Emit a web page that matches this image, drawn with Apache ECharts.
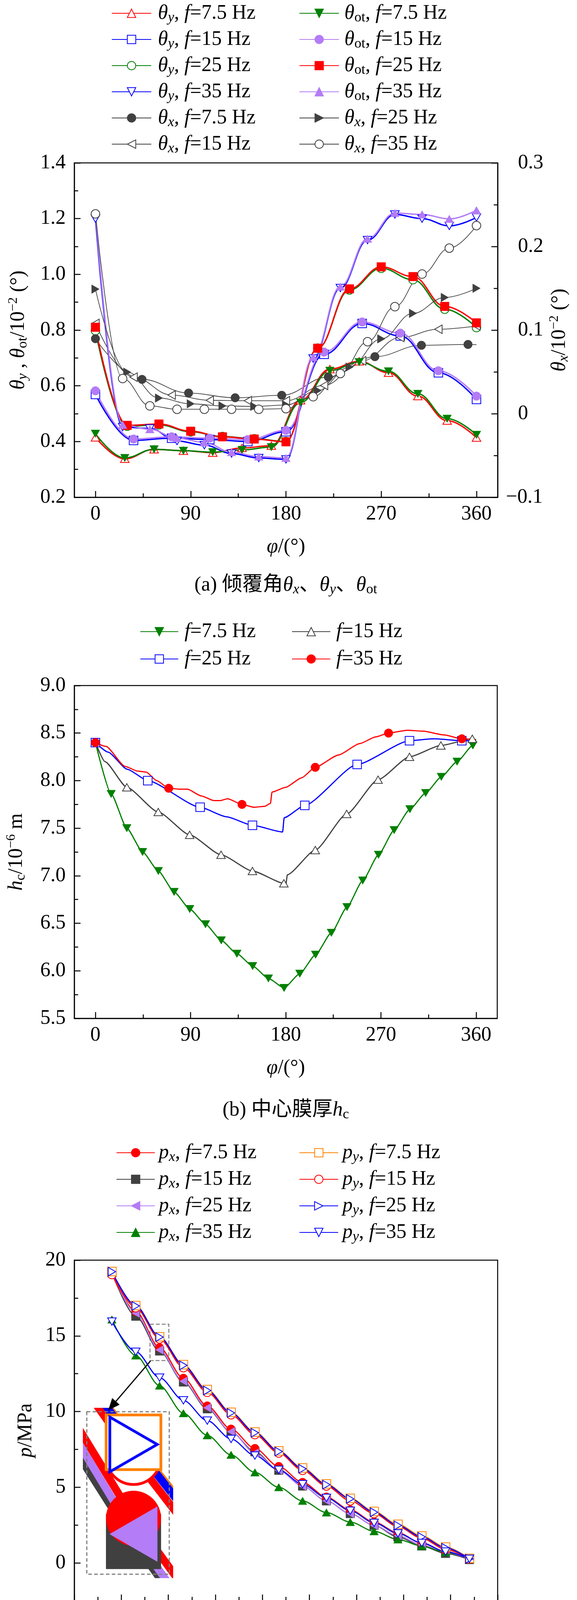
<!DOCTYPE html>
<html>
<head>
<meta charset="utf-8">
<script src="https://cdn.jsdelivr.net/npm/echarts@6/dist/echarts.min.js"></script>
<style>
html, body { margin: 0; padding: 0; background: #fff; }
#chart { width: 1476px; height: 5804px; }
</style>
</head>
<body>
<div id="chart"></div>
<script>
// ---------- (a) tilt angles, phi in degrees ----------
var phiA75 = [0, 27.7, 55.4, 83.1, 110.8, 138.5, 166.2, 193.8, 221.5, 249.2, 276.9, 304.6, 332.3, 360];
var phiA15 = [0, 36, 72, 108, 144, 180, 216, 252, 288, 324, 360];
var phiA25 = [0, 30, 60, 90, 120, 150, 180, 210, 240, 270, 300, 330, 360];
var phiA35 = [0, 25.7, 51.4, 77.1, 102.9, 128.6, 154.3, 180, 205.7, 231.4, 257.1, 282.9, 308.6, 334.3, 360];
var phiAx75 = [0, 44, 88, 132, 176, 220, 264, 308, 352];

var thetaY75 = [0.415, 0.338, 0.372, 0.367, 0.36, 0.377, 0.385, 0.548, 0.66, 0.688, 0.647, 0.563, 0.475, 0.414];
var thetaY15 = [0.569, 0.404, 0.412, 0.407, 0.40, 0.435, 0.713, 0.824, 0.779, 0.647, 0.551];
var thetaY25 = [0.798, 0.455, 0.46, 0.435, 0.418, 0.41, 0.40, 0.735, 0.944, 1.022, 0.981, 0.875, 0.809];
var thetaY35 = [1.20, 0.452, 0.447, 0.402, 0.387, 0.357, 0.341, 0.336, 0.698, 0.951, 1.123, 1.215, 1.20, 1.174, 1.204];
var thetaOt75 = [0.428, 0.341, 0.372, 0.367, 0.362, 0.37, 0.38, 0.54, 0.654, 0.685, 0.652, 0.571, 0.482, 0.424];
var thetaOt15 = [0.582, 0.409, 0.417, 0.412, 0.407, 0.44, 0.721, 0.829, 0.789, 0.654, 0.563];
var thetaOt25 = [0.81, 0.458, 0.463, 0.437, 0.417, 0.409, 0.399, 0.735, 0.948, 1.027, 0.992, 0.885, 0.826];
var thetaOt35 = [1.22, 0.46, 0.444, 0.412, 0.397, 0.362, 0.346, 0.341, 0.703, 0.956, 1.128, 1.22, 1.215, 1.199, 1.23];
var thetaX75 = [0.0897, 0.041, 0.0247, 0.019, 0.022, 0.0439, 0.0682, 0.0818, 0.0828];
var thetaX75End = [[360, 0.0825]];
var thetaX15 = [0.108, 0.0437, 0.0223, 0.016, 0.0155, 0.0155, 0.0338, 0.0632, 0.0912, 0.101, 0.105];
var thetaX25 = [0.149, 0.0497, 0.0187, 0.0118, 0.0093, 0.0087, 0.0103, 0.0277, 0.0557, 0.0895, 0.12, 0.139, 0.150];
var thetaX35 = [0.239, 0.042, 0.0093, 0.0053, 0.0053, 0.0053, 0.0053, 0.006, 0.0203, 0.048, 0.0861, 0.128, 0.167, 0.198, 0.225];

// ---------- (b) centre film thickness ----------
var phiB75 = [0, 14.9, 29.7, 44.6, 59.5, 74.4, 89.2, 104.1, 119, 133.8, 148.7, 163.6, 178.4, 193.3, 208.2, 223.1, 237.9, 252.8, 267.7, 282.5, 297.4, 312.3, 327.1, 342, 356.9];
var phiB15 = [0, 29.7, 59.4, 89.1, 118.8, 148.5, 178.2, 207.9, 237.6, 267.3, 297, 326.7, 356.4];
var phiB25 = [0, 49.5, 99, 148.5, 198, 247.5, 297, 346.5];
var phiB35 = [0, 69.3, 138.6, 207.9, 277.2, 346.5];
var hc75 = [8.40, 7.86, 7.50, 7.25, 7.05, 6.83, 6.65, 6.49, 6.32, 6.18, 6.05, 5.92, 5.82, 5.97, 6.17, 6.40, 6.67, 6.95, 7.22, 7.48, 7.70, 7.87, 8.04, 8.20, 8.37];
var hc15 = [8.40, 7.93, 7.67, 7.43, 7.22, 7.05, 6.92, 7.27, 7.65, 8.01, 8.25, 8.37, 8.44];
var hc25 = [8.40, 8.00, 7.72, 7.53, 7.74, 8.17, 8.42, 8.42];
var hc35 = [8.40, 7.92, 7.75, 8.14, 8.50, 8.44];
// unmarked points along the curves
var hc75Extra = [[360, 8.42]];
var hc15Extra = [[9, 8.20], [180, 6.90], [181.5, 7.01], [360, 8.43]];
var hc25Extra = [[12, 8.30], [30, 8.12], [124, 7.62], [177, 7.46], [178.5, 7.61], [320, 8.44], [360, 8.42]];
var hc35Extra = [[10, 8.36], [28, 8.15], [40, 8.10], [48, 8.09], [58, 8.00], [80, 7.91], [87, 7.91], [100, 7.84],
  [112, 7.79], [118, 7.79], [125, 7.81], [150, 7.72], [160, 7.73], [165.5, 7.76], [167, 7.88], [180, 7.93],
  [195, 8.03], [230, 8.27], [250, 8.39], [265, 8.46], [295, 8.53], [310, 8.52], [330, 8.48], [360, 8.43]];

// ---------- (c)/(d) pressure along radius ----------
var rVals = [7.8, 8.307, 8.813, 9.32, 9.827, 10.333, 10.84, 11.347, 11.853, 12.36, 12.867, 13.373, 13.88, 14.387, 14.893, 15.4];
var pxC75 = [19.1, 16.62, 14.22, 12.2, 10.37, 8.84, 7.56, 6.37, 5.32, 4.35, 3.5, 2.7, 1.99, 1.31, 0.75, 0.27];
var pyC75 = [19.25, 17.0, 14.94, 13.1, 11.45, 9.95, 8.65, 7.4, 6.27, 5.22, 4.27, 3.4, 2.55, 1.78, 1.05, 0.3];
var pxC15 = [19.17, 16.3, 14.0, 11.95, 10.18, 8.65, 7.34, 6.12, 5.08, 4.1, 3.26, 2.48, 1.72, 1.12, 0.63, 0.22];
var pyC15 = [19.05, 16.86, 14.8, 12.9, 11.27, 9.79, 8.48, 7.26, 6.12, 5.08, 4.1, 3.26, 2.4, 1.63, 0.9, 0.27];
var pxC25 = [19.24, 16.5, 14.07, 12.0, 10.25, 8.67, 7.26, 6.12, 5.08, 4.1, 3.26, 2.48, 1.8, 1.19, 0.7, 0.27];
var pyC25 = [19.24, 16.98, 14.92, 13.05, 11.39, 9.91, 8.60, 7.36, 6.22, 5.17, 4.23, 3.35, 2.48, 1.72, 1.0, 0.27];
var pxC35 = [16.08, 13.7, 11.71, 9.89, 8.43, 7.14, 5.98, 5.0, 4.1, 3.33, 2.7, 2.09, 1.55, 1.12, 0.7, 0.34];
var pyC35 = [15.94, 13.95, 12.24, 10.74, 9.4, 8.19, 7.09, 6.15, 5.2, 4.3, 3.45, 2.65, 1.95, 1.32, 0.75, 0.27];

var pxD75 = [0.2, 0.039, -0.075, -0.148, -0.195, -0.215, -0.216, -0.2, -0.17, -0.129, -0.076, -0.015, 0.054, 0.131, 0.212, 0.30];
var pyD75 = [0.2, 0.12, 0.059, 0.014, -0.015, -0.029, -0.035, -0.026, -0.011, 0.014, 0.044, 0.084, 0.13, 0.181, 0.238, 0.30];
var pxD15 = [0.2, 0.001, -0.139, -0.235, -0.296, -0.325, -0.33, -0.316, -0.281, -0.232, -0.17, -0.096, -0.011, 0.083, 0.187, 0.30];
var pyD15 = [0.2, 0.133, 0.081, 0.044, 0.019, 0.009, 0.006, 0.013, 0.028, 0.05, 0.077, 0.111, 0.152, 0.198, 0.246, 0.30];
var pxD25 = [0.2, -0.035, -0.2, -0.317, -0.389, -0.429, -0.442, -0.427, -0.389, -0.335, -0.264, -0.177, -0.076, 0.038, 0.163, 0.30];
var pyD25 = [0.2, 0.147, 0.109, 0.081, 0.065, 0.057, 0.055, 0.063, 0.077, 0.097, 0.122, 0.149, 0.182, 0.219, 0.259, 0.30];
var pxD35 = [0.2, -0.045, -0.224, -0.354, -0.437, -0.481, -0.497, -0.481, -0.448, -0.389, -0.314, -0.221, -0.11, 0.014, 0.149, 0.30];
var pyD35 = [0.2, 0.163, 0.135, 0.117, 0.106, 0.103, 0.105, 0.111, 0.125, 0.14, 0.16, 0.184, 0.209, 0.238, 0.268, 0.303];

// ---------- tick values ----------
var phiTicks = [0, 90, 180, 270, 360];
var phiMinor = [45, 135, 225, 315];
var rTicks = [7, 8, 9, 10, 11, 12, 13, 14, 15, 16];
var rMinor = [7.5, 8.5, 9.5, 10.5, 11.5, 12.5, 13.5, 14.5, 15.5];
var thetaTicks = [0.2, 0.4, 0.6, 0.8, 1.0, 1.2, 1.4];
var thetaMinor = [0.3, 0.5, 0.7, 0.9, 1.1, 1.3];
var thetaXTicks = [-0.1, 0, 0.1, 0.2, 0.3];
var thetaXMinor = [-0.05, 0.05, 0.15, 0.25];
var hcTicks = [5.5, 6.0, 6.5, 7.0, 7.5, 8.0, 8.5, 9.0];
var hcMinor = [5.75, 6.25, 6.75, 7.25, 7.75, 8.25, 8.75];
var pCTicks = [0, 5, 10, 15, 20];
var pCMinor = [2.5, 7.5, 12.5, 17.5];
var pDTicks = [-0.6, -0.4, -0.2, 0, 0.2, 0.4];
var pDMinor = [-0.5, -0.3, -0.1, 0.1, 0.3];

// ---------- styles ----------
var FF = '"Liberation Serif", "Noto Sans CJK SC", serif';
var RED = '#ff0000', BLUE = '#0000ff', GREEN = '#008000', PURPLE = '#b47cf6', ORANGE = '#ff8000', DGRAY = '#404040';
var TRI_UP = 'path://M0,8.66L5,0L10,8.66Z';
var TRI_DOWN = 'path://M0,0L10,0L5,8.66Z';
var TRI_LEFT = 'path://M8.66,0L8.66,10L0,5Z';
var TRI_RIGHT = 'path://M0,0L8.66,5L0,10Z';

var R = {
  n: { fontFamily: FF, fontSize: 52, lineHeight: 60, fontWeight: 'normal', color: '#000' },
  i: { fontFamily: FF, fontSize: 52, lineHeight: 60, fontWeight: 'normal', fontStyle: 'italic', color: '#000' },
  si: { fontFamily: FF, fontSize: 36, lineHeight: 26, fontWeight: 'normal', fontStyle: 'italic', verticalAlign: 'bottom', color: '#000' },
  sn: { fontFamily: FF, fontSize: 36, lineHeight: 26, fontWeight: 'normal', verticalAlign: 'bottom', color: '#000' },
  sup: { fontFamily: FF, fontSize: 34, lineHeight: 36, fontWeight: 'normal', verticalAlign: 'top', color: '#000' },
  pad: { fontFamily: FF, fontSize: 52, lineHeight: 60, fontWeight: 'normal', padding: [0, 0, 0, 31], color: '#000' }
};

var LBL = {
  'a-y75': '{i|θ}{si|y}{n|, }{i|f}{n|=7.5 Hz}',
  'a-y15': '{i|θ}{si|y}{n|, }{i|f}{n|=15 Hz}',
  'a-y25': '{i|θ}{si|y}{n|, }{i|f}{n|=25 Hz}',
  'a-y35': '{i|θ}{si|y}{n|, }{i|f}{n|=35 Hz}',
  'a-x75': '{i|θ}{si|x}{n|, }{i|f}{n|=7.5 Hz}',
  'a-x15': '{i|θ}{si|x}{n|, }{i|f}{n|=15 Hz}',
  'a-ot75': '{i|θ}{sn|ot}{n|, }{i|f}{n|=7.5 Hz}',
  'a-ot15': '{i|θ}{sn|ot}{n|, }{i|f}{n|=15 Hz}',
  'a-ot25': '{i|θ}{sn|ot}{n|, }{i|f}{n|=25 Hz}',
  'a-ot35': '{i|θ}{sn|ot}{n|, }{i|f}{n|=35 Hz}',
  'a-x25': '{i|θ}{si|x}{n|, }{i|f}{n|=25 Hz}',
  'a-x35': '{i|θ}{si|x}{n|, }{i|f}{n|=35 Hz}',
  'b-75': '{i|f}{n|=7.5 Hz}',
  'b-15': '{i|f}{n|=15 Hz}',
  'b-25': '{i|f}{n|=25 Hz}',
  'b-35': '{i|f}{n|=35 Hz}',
  'c-px75': '{i|p}{si|x}{n|, }{i|f}{n|=7.5 Hz}',
  'c-py75': '{i|p}{si|y}{n|, }{i|f}{n|=7.5 Hz}',
  'c-px15': '{i|p}{si|x}{n|, }{i|f}{n|=15 Hz}',
  'c-py15': '{i|p}{si|y}{n|, }{i|f}{n|=15 Hz}',
  'c-px25': '{i|p}{si|x}{n|, }{i|f}{n|=25 Hz}',
  'c-py25': '{i|p}{si|y}{n|, }{i|f}{n|=25 Hz}',
  'c-px35': '{i|p}{si|x}{n|, }{i|f}{n|=35 Hz}',
  'c-py35': '{i|p}{si|y}{n|, }{i|f}{n|=35 Hz}',
  'd-px75': '{i|p}{si|x}{n|, }{i|f}{n|=7.5 Hz}',
  'd-py75': '{i|p}{si|y}{n|, }{i|f}{n|=7.5 Hz}',
  'd-px15': '{i|p}{si|x}{n|, }{i|f}{n|=15 Hz}',
  'd-py15': '{i|p}{si|y}{n|, }{i|f}{n|=15 Hz}',
  'd-px25': '{n| }{i|p}{si|x}{n|, }{i|f}{n|=25 Hz}',
  'd-py25': '{i|p}{si|y}{n|, }{i|f}{n|=25 Hz}',
  'd-px35': '{i|p}{si|x}{n|, }{i|f}{n|=35 Hz}',
  'd-py35': '{i|p}{si|y}{n|, }{i|f}{n|=35 Hz}'
};

function fmt1(v) { return v.toFixed(1); }
function fmtInt(v) { return String(v); }
function fmtSigned(v) {
  if (v < 0) return '\u2212' + (-v).toFixed(1);
  return v === 0 ? '0' : v.toFixed(1);
}
function fmtRight(v) {
  if (v < 0) return '{n|\u2212' + (-v).toFixed(1) + '}';
  return '{pad|' + (v === 0 ? '0' : v.toFixed(1)) + '}';
}

function mainAxis(grid, pos, min, max, ticks, fmt, margin, name, nameGap, rotate) {
  return {
    type: 'value', gridIndex: grid, position: pos, min: min, max: max,
    splitLine: { show: false },
    axisLine: { show: true, onZero: false, lineStyle: { color: '#000', width: 2.5 } },
    axisTick: { show: true, inside: true, length: 16, customValues: ticks, lineStyle: { color: '#000', width: 2.5 } },
    axisLabel: { show: true, customValues: ticks, formatter: fmt, margin: margin, fontSize: 52, lineHeight: 52,
      fontFamily: FF, color: '#000', rich: R },
    name: name, nameLocation: 'middle', nameGap: nameGap, nameRotate: rotate,
    nameTextStyle: { fontSize: 52, fontFamily: FF, color: '#000', rich: R }
  };
}
function minorAxis(grid, pos, min, max, ticks) {
  return {
    type: 'value', gridIndex: grid, position: pos, min: min, max: max,
    splitLine: { show: false },
    axisLine: { show: false, onZero: false },
    axisTick: { show: true, inside: true, length: 10, customValues: ticks, lineStyle: { color: '#000', width: 2.5 } },
    axisLabel: { show: false }
  };
}

function mk(name, xs, ys, sym, col, open, xi, yi, lw, smooth, extra) {
  var pts = xs.map(function (x, i) { return { value: [x, ys[i]] }; });
  if (extra) {
    extra.forEach(function (p) { pts.push({ value: p, symbol: 'none' }); });
    pts.sort(function (a, b) { return a.value[0] - b.value[0]; });
  }
  return {
    name: name, type: 'line', xAxisIndex: xi, yAxisIndex: yi, data: pts,
    symbol: sym, symbolSize: 22, symbolKeepAspect: true, showAllSymbol: true,
    smooth: smooth, smoothMonotone: 'x',
    lineStyle: { color: col, width: lw },
    itemStyle: { color: open ? '#fff' : col, borderColor: col, borderWidth: open ? 2 : 1 },
    emphasis: { disabled: true }, silent: true
  };
}

function legendCol(names, left, top, gap, width, textPad) {
  return {
    data: names, orient: 'vertical', left: left, top: top, padding: 0,
    itemGap: gap, itemWidth: width, itemHeight: 27, selectedMode: false,
    formatter: function (n) { return LBL[n]; },
    textStyle: { fontSize: 52, fontFamily: FF, color: '#000', padding: [0, 0, 0, textPad], rich: R }
  };
}

var series = [
  // (a) grid 0
  mk('a-y75', phiA75, thetaY75, TRI_UP, RED, true, 0, 0, 3.5, 0.4),
  mk('a-y15', phiA15, thetaY15, 'rect', BLUE, true, 0, 0, 3.5, 0.4),
  mk('a-y25', phiA25, thetaY25, 'circle', GREEN, true, 0, 0, 3.5, 0.4),
  mk('a-y35', phiA35, thetaY35, TRI_DOWN, BLUE, true, 0, 0, 3.5, 0.4),
  mk('a-x75', phiAx75, thetaX75, 'circle', DGRAY, false, 0, 2, 1.8, 0.4, thetaX75End),
  mk('a-x15', phiA15, thetaX15, TRI_LEFT, DGRAY, true, 0, 2, 1.8, 0.4),
  mk('a-ot75', phiA75, thetaOt75, TRI_DOWN, GREEN, false, 0, 0, 3.5, 0.4),
  mk('a-ot15', phiA15, thetaOt15, 'circle', PURPLE, false, 0, 0, 3.5, 0.4),
  mk('a-ot25', phiA25, thetaOt25, 'rect', RED, false, 0, 0, 3.5, 0.4),
  mk('a-ot35', phiA35, thetaOt35, TRI_UP, PURPLE, false, 0, 0, 3.5, 0.4),
  mk('a-x25', phiA25, thetaX25, TRI_RIGHT, DGRAY, false, 0, 2, 1.8, 0.4),
  mk('a-x35', phiA35, thetaX35, 'circle', DGRAY, true, 0, 2, 1.8, 0.4),
  // (b) grid 1
  mk('b-75', phiB75, hc75, TRI_DOWN, GREEN, false, 2, 4, 3, 0.2, hc75Extra),
  mk('b-15', phiB15, hc15, TRI_UP, DGRAY, true, 2, 4, 3, 0.2, hc15Extra),
  mk('b-25', phiB25, hc25, 'rect', BLUE, true, 2, 4, 3, 0.2, hc25Extra),
  mk('b-35', phiB35, hc35, 'circle', RED, false, 2, 4, 3, 0.2, hc35Extra),
  // (c) grid 2
  mk('c-px15', rVals, pxC15, 'rect', DGRAY, false, 4, 6, 3, 0.3),
  mk('c-px75', rVals, pxC75, 'circle', RED, false, 4, 6, 3, 0.3),
  mk('c-px25', rVals, pxC25, TRI_LEFT, PURPLE, false, 4, 6, 3, 0.3),
  mk('c-px35', rVals, pxC35, TRI_UP, GREEN, false, 4, 6, 3, 0.3),
  mk('c-py15', rVals, pyC15, 'circle', RED, true, 4, 6, 3, 0.3),
  mk('c-py75', rVals, pyC75, 'rect', ORANGE, true, 4, 6, 3, 0.3),
  mk('c-py25', rVals, pyC25, TRI_RIGHT, BLUE, true, 4, 6, 3, 0.3),
  mk('c-py35', rVals, pyC35, TRI_DOWN, BLUE, true, 4, 6, 3, 0.3),
  // (d) grid 3
  mk('d-px75', rVals, pxD75, 'circle', PURPLE, false, 6, 8, 3, 0.3),
  mk('d-py75', rVals, pyD75, 'rect', ORANGE, true, 6, 8, 3, 0.3),
  mk('d-px15', rVals, pxD15, 'rect', DGRAY, false, 6, 8, 3, 0.3),
  mk('d-py15', rVals, pyD15, 'circle', GREEN, true, 6, 8, 3, 0.3),
  mk('d-px25', rVals, pxD25, TRI_LEFT, GREEN, false, 6, 8, 3, 0.3),
  mk('d-py25', rVals, pyD25, TRI_RIGHT, RED, true, 6, 8, 3, 0.3),
  mk('d-px35', rVals, pxD35, TRI_UP, ORANGE, false, 6, 8, 3, 0.3),
  mk('d-py35', rVals, pyD35, TRI_DOWN, BLUE, true, 6, 8, 3, 0.3)
];

// dashed box marking the magnified region in (c)
series[17].markArea = {
  silent: true,
  itemStyle: { color: 'rgba(0,0,0,0)', borderColor: '#808080', borderWidth: 2.5, borderType: 'dashed' },
  data: [[{ coord: [8.61, 15.77] }, { coord: [9.01, 13.37] }]]
};

// magnified inset of (c): same data, drawn on a small zoomed grid
var insetDefs = [
  ['i-px15', pxC15, 'rect', DGRAY, false],
  ['i-px75', pxC75, 'circle', RED, false],
  ['i-px25', pxC25, TRI_LEFT, PURPLE, false],
  ['i-py15', pyC15, 'circle', RED, true],
  ['i-py75', pyC75, 'rect', ORANGE, true],
  ['i-py25', pyC25, TRI_RIGHT, BLUE, true]
];
insetDefs.forEach(function (d) {
  var s = mk(d[0], rVals, d[1], d[2], d[3], d[4], 8, 10, 20, 0);
  s.symbolSize = 140;
  s.itemStyle.borderWidth = d[4] ? 7 : 1;
  s.z = 10;
  series.push(s);
});

var option = {
  animation: false,
  backgroundColor: '#fff',
  textStyle: { fontFamily: FF },
  grid: [
    { left: 190, top: 417, width: 1083, height: 856, show: true, borderColor: '#000', borderWidth: 2.5 },
    { left: 190, top: 1755, width: 1082, height: 852, show: true, borderColor: '#000', borderWidth: 2.5 },
    { left: 190, top: 3226, width: 1083, height: 872, show: true, borderColor: '#000', borderWidth: 2.5 },
    { left: 190, top: 4689, width: 1082, height: 870, show: true, borderColor: '#000', borderWidth: 2.5 },
    { left: 222, top: 3614, width: 211, height: 416, show: true, backgroundColor: '#fff', borderWidth: 0 }
  ],
  xAxis: [
    mainAxis(0, 'bottom', -20, 380, phiTicks, fmtInt, 17, '{i|φ}{n|/(°)}', 97),
    minorAxis(0, 'bottom', -20, 380, phiMinor),
    mainAxis(1, 'bottom', -20, 380, phiTicks, fmtInt, 17, '{i|φ}{n|/(°)}', 97),
    minorAxis(1, 'bottom', -20, 380, phiMinor),
    mainAxis(2, 'bottom', 7, 16, rTicks, fmtInt, 17, '{i|r}{n|/mm}', 94),
    minorAxis(2, 'bottom', 7, 16, rMinor),
    mainAxis(3, 'bottom', 7, 16, rTicks, fmtInt, 17, '{i|r}{n|/mm}', 96),
    minorAxis(3, 'bottom', 7, 16, rMinor),
    { type: 'value', gridIndex: 4, min: 8.66, max: 8.93, show: false }
  ],
  yAxis: [
    mainAxis(0, 'left', 0.2, 1.4, thetaTicks, fmt1, 22, '{i|θ}{si|y}{n| , }{i|θ}{sn|ot}{n|/10}{sup|\u22122}{n| (°)}', 113, 90),
    minorAxis(0, 'left', 0.2, 1.4, thetaMinor),
    mainAxis(0, 'right', -0.1, 0.3, thetaXTicks, fmtRight, 21, '{i|θ}{si|x}{n|/10}{sup|\u22122}{n| (°)}', 128, 90),
    minorAxis(0, 'right', -0.1, 0.3, thetaXMinor),
    mainAxis(1, 'left', 5.5, 9.0, hcTicks, fmt1, 22, '{i|h}{sn|c}{n|/10}{sup|\u22126}{n| m}', 118, 90),
    minorAxis(1, 'left', 5.5, 9.0, hcMinor),
    mainAxis(2, 'left', -2.5, 20, pCTicks, fmtInt, 22, '{i|p}{n|/MPa}', 94, 90),
    minorAxis(2, 'left', -2.5, 20, pCMinor),
    mainAxis(3, 'left', -0.6, 0.4, pDTicks, fmtSigned, 22, '{i|p}{n|/MPa}', 122, 90),
    minorAxis(3, 'left', -0.6, 0.4, pDMinor),
    { type: 'value', gridIndex: 4, min: 13.69, max: 15.23, show: false }
  ],
  legend: [
    legendCol(['a-y75', 'a-y15', 'a-y25', 'a-y35', 'a-x75', 'a-x15'], 285, 8, 11, 101, 12),
    legendCol(['a-ot75', 'a-ot15', 'a-ot25', 'a-ot35', 'a-x25', 'a-x35'], 765, 8, 11, 101, 9),
    legendCol(['b-75', 'b-25'], 358, 1591, 18, 97, 11),
    legendCol(['b-15', 'b-35'], 746, 1591, 18, 98, 10),
    legendCol(['c-px75', 'c-px15', 'c-px25', 'c-px35'], 297, 2925, 12, 98, 5),
    legendCol(['c-py75', 'c-py15', 'c-py25', 'c-py35'], 765, 2925, 12, 99, 6),
    legendCol(['d-px75', 'd-px15', 'd-px25', 'd-px35'], 313, 4408, 6, 90, 6),
    legendCol(['d-py75', 'd-py15', 'd-py25', 'd-py35'], 774, 4408, 6, 90, 6)
  ],
  title: [
    { text: '{n|(a) 倾覆角}{i|θ}{si|x}{n|、}{i|θ}{si|y}{n|、}{i|θ}{sn|ot}', top: 1468 },
    { text: '{n|(b) 中心膜厚}{i|h}{sn|c}', top: 2812 },
    { text: '{n|(c) 高压区油膜压力场 (}{i|φ}{n|=90°)}', top: 4282 },
    { text: '{n|(d) 低压区油膜压力场 (}{i|φ}{n|=270°)}', top: 5740 }
  ].map(function (t) {
    return { text: t.text, left: 731, top: t.top, textAlign: 'center', padding: 0,
      textStyle: { fontWeight: 'normal', rich: R } };
  }),
  graphic: [
    { type: 'rect', z: 100, shape: { x: 222, y: 3614, width: 211, height: 416 },
      style: { fill: 'none', stroke: '#808080', lineWidth: 3, lineDash: [9, 6] } },
    { type: 'line', z: 100, shape: { x1: 385, y1: 3484, x2: 296, y2: 3588 },
      style: { stroke: '#000', lineWidth: 3 } },
    { type: 'polygon', z: 100, shape: { points: [[277, 3610], [306, 3596], [287, 3579]] },
      style: { fill: '#000' } }
  ],
  series: series
};

var myChart = echarts.init(document.getElementById('chart'));
myChart.setOption(option);
</script>
</body>
</html>
